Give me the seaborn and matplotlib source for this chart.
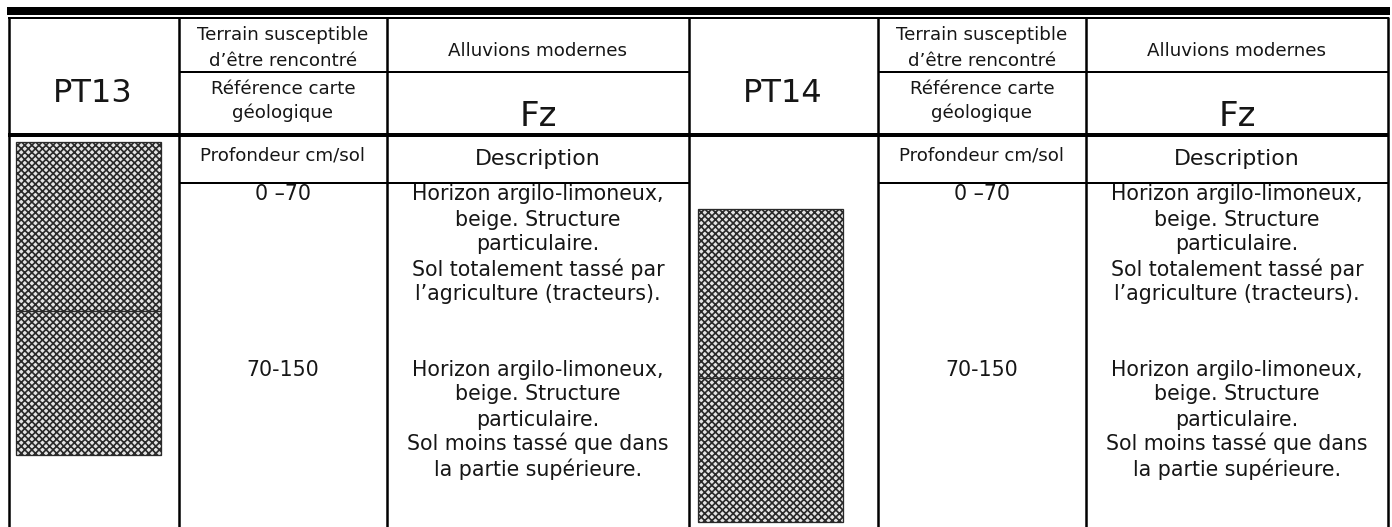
import matplotlib
matplotlib.use("Agg")
import matplotlib.pyplot as plt
import seaborn as sns

# Table content
profiles = ["PT13", "PT14"]
terrain_label = ["Terrain susceptible", "d\u2019être rencontré"]
ref_label = ["Référence carte", "géologique"]
terrain_value = "Alluvions modernes"
ref_value = "Fz"
depth_header = "Profondeur cm/sol"
desc_header = "Description"
depths = ["0 \u201370", "70-150"]
descriptions = [
    ["Horizon argilo-limoneux,", "beige. Structure", "particulaire.",
     "Sol totalement tassé par", "l\u2019agriculture (tracteurs)."],
    ["Horizon argilo-limoneux,", "beige. Structure", "particulaire.",
     "Sol moins tassé que dans", "la partie supérieure."],
]

# Layout (pixels)
W, H, DPI = 1393, 527, 85
col_x = [9, 179, 387, 689, 878, 1086, 1388]
box_top = [142, 209]
box_h = [169, 144]
box_w = 145


def pt(px):
    return px * 72 / DPI


sns.set_theme(style="white")
plt.rcParams['font.family'] = ['DejaVu Sans']
plt.rcParams['hatch.linewidth'] = pt(1.7)

fig = plt.figure(figsize=(W / DPI, H / DPI), dpi=DPI)
ax = fig.add_axes([0, 0, 1, 1])
ax.set_xlim(0, W)
ax.set_ylim(H, 0)
ax.axis('off')

# top heavy bar and table grid
ax.fill_between([7, 1390], 7, 15, color='black', lw=0)
ax.plot([8, 1389], [18, 18], color='black', lw=pt(2), solid_capstyle='butt')
ax.plot([8, 1389], [135, 135], color='black', lw=pt(4), solid_capstyle='butt')
for x in col_x:
    ax.plot([x, x], [17, H], color='black', lw=pt(2.5), solid_capstyle='butt')
for k in range(2):
    x0, x1 = col_x[3 * k + 1], col_x[3 * k + 3]
    ax.plot([x0, x1], [72, 72], color='black', lw=pt(2), solid_capstyle='butt')
    ax.plot([x0, x1], [183, 183], color='black', lw=pt(2), solid_capstyle='butt')

black = '#161616'
for k, name in enumerate(profiles):
    c0 = (col_x[3 * k] + col_x[3 * k + 1]) / 2
    c1 = (col_x[3 * k + 1] + col_x[3 * k + 2]) / 2
    c2 = (col_x[3 * k + 2] + col_x[3 * k + 3]) / 2

    ax.text(c0 - 1, 102, name, ha='center', va='baseline', fontsize=pt(32), color=black)

    ax.text(c1, 40.5, terrain_label[0], ha='center', va='baseline', fontsize=pt(18.3), color=black)
    ax.text(c1, 65.5, terrain_label[1], ha='center', va='baseline', fontsize=pt(18.3), color=black)
    ax.text(c1, 94, ref_label[0], ha='center', va='baseline', fontsize=pt(18.3), color=black)
    ax.text(c1, 118, ref_label[1], ha='center', va='baseline', fontsize=pt(18.3), color=black)
    ax.text(c1, 160, depth_header, ha='center', va='baseline', fontsize=pt(18.3), color=black)

    ax.text(c2, 56.5, terrain_value, ha='center', va='baseline', fontsize=pt(18.3), color=black)
    ax.text(c2, 126, ref_value, ha='center', va='baseline', fontsize=pt(34), color=black)
    ax.text(c2, 165, desc_header, ha='center', va='baseline', fontsize=pt(22), color=black)

    # depth ranges and horizon descriptions
    for j, (d, lines) in enumerate(zip(depths, descriptions)):
        base = 200.5 + j * 175
        ax.text(c1, base + (1 if j else 0), d, ha='center', va='baseline', fontsize=pt(20.5), color=black)
        for i, line in enumerate(lines):
            ax.text(c2, base + i * 25, line, ha='center', va='baseline', fontsize=pt(20.5), color=black)

    # soil column drawing (two horizons)
    cx = col_x[3 * k] + 7 + box_w / 2 if k == 0 else 698 + box_w / 2
    bottom = box_top[k]
    for h in box_h:
        ax.bar(cx, h, bottom=bottom, width=box_w, color='#e4e4e4', edgecolor='#2a2a2a',
               hatch='xxxx', linewidth=pt(1.3))
        bottom += h

fig.savefig("out.png", dpi=DPI, facecolor='white')
